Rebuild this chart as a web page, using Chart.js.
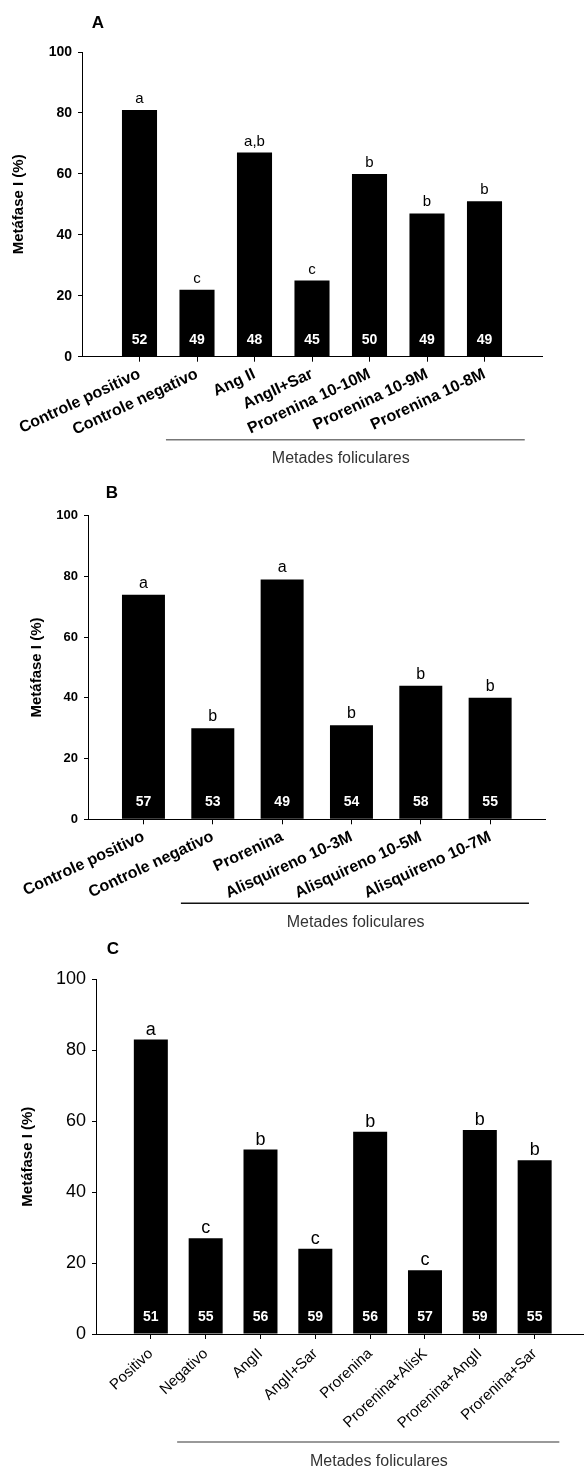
<!DOCTYPE html>
<html>
<head>
<meta charset="utf-8">
<script src="https://cdn.jsdelivr.net/npm/chart.js@4/dist/chart.umd.min.js"></script>
<style>
body { margin: 0; background: #fff; }
canvas { position: absolute; left: 0; }
</style>
</head>
<body>
<canvas id="chartA" width="584" height="470" style="top:0px"></canvas>
<canvas id="chartB" width="584" height="465" style="top:470px"></canvas>
<canvas id="chartC" width="584" height="538" style="top:935px"></canvas>
<script>
// panel A
const catsA = ["Controle positivo", "Controle negativo", "Ang II", "AngII+Sar", "Prorenina 10-10M", "Prorenina 10-9M", "Prorenina 10-8M"];
const valuesA = [81, 22, 67, 25, 60, 47, 51];
const lettersA = ["a", "c", "a,b", "c", "b", "b", "b"];
const nA = [52, 49, 48, 45, 50, 49, 49];

// panel B
const catsB = ["Controle positivo", "Controle negativo", "Prorenina", "Alisquireno 10-3M", "Alisquireno 10-5M", "Alisquireno 10-7M"];
const valuesB = [74, 30, 79, 31, 44, 40];
const lettersB = ["a", "b", "a", "b", "b", "b"];
const nB = [57, 53, 49, 54, 58, 55];

// panel C
const catsC = ["Positivo", "Negativo", "AngII", "AngII+Sar", "Prorenina", "Prorenina+AlisK", "Prorenina+AngII", "Prorenina+Sar"];
const valuesC = [83, 27, 52, 24, 57, 18, 57.5, 49];
const lettersC = ["a", "c", "b", "c", "b", "c", "b", "b"];
const nC = [51, 55, 56, 59, 56, 57, 59, 55];

const yTicks = [0, 20, 40, 60, 80, 100];
const FAM = '"Liberation Sans", Arial, sans-serif';

// letters above bars, n inside bars, panel letter and the "Metades foliculares" bracket
const annot = {
  id: "annot",
  afterDatasetsDraw(chart, args, o) {
    const ctx = chart.ctx;
    const x = chart.scales.x, y = chart.scales.y;
    const y0 = y.getPixelForValue(0);
    ctx.save();
    ctx.textAlign = "center";
    ctx.textBaseline = "alphabetic";
    ctx.fillStyle = "#fff";
    ctx.font = "bold 14px " + FAM;
    o.n.forEach((n, i) => ctx.fillText(n, x.getPixelForValue(i + 1), y0 - 13));
    ctx.fillStyle = "#000";
    ctx.font = o.letterFont;
    o.letters.forEach((l, i) => ctx.fillText(l, x.getPixelForValue(i + 1), y.getPixelForValue(o.values[i]) - o.letterGap));
    ctx.font = "bold 17px " + FAM;
    ctx.textBaseline = "middle";
    ctx.fillText(o.panel, o.panelX, o.panelY);
    ctx.strokeStyle = o.lineColor;
    ctx.lineWidth = 1.5;
    ctx.beginPath();
    ctx.moveTo(x.getPixelForValue(o.groupFrom), y0 + o.lineDy);
    ctx.lineTo(x.getPixelForValue(o.groupTo), y0 + o.lineDy);
    ctx.stroke();
    ctx.fillStyle = "#333";
    ctx.font = "16px " + FAM;
    ctx.fillText("Metades foliculares", x.getPixelForValue(o.labelAt), y0 + o.textDy);
    ctx.restore();
  }
};

function makePanel(id, cats, values, letters, n, c) {
  return new Chart(document.getElementById(id), {
    type: "bar",
    data: {
      datasets: [{
        data: values.map((v, i) => ({ x: i + 1, y: v })),
        backgroundColor: "#000",
        categoryPercentage: 1,
        barPercentage: c.barPct
      }]
    },
    options: {
      responsive: false,
      animation: false,
      layout: { padding: { top: c.top, right: c.right, left: 0, bottom: 0 } },
      plugins: {
        legend: { display: false },
        tooltip: { enabled: false },
        annot: Object.assign({ letters: letters, n: n, values: values }, c.annot)
      },
      scales: {
        x: {
          type: "linear",
          min: c.xmin,
          max: c.xmax,
          offset: false,
          afterBuildTicks: (a) => { a.ticks = cats.map((s, i) => ({ value: i + 1 })); },
          afterFit: (s) => { s.height = c.xh; },
          grid: { offset: false, drawOnChartArea: false, tickLength: 5, color: "#000" },
          border: { color: "#000", width: 1 },
          ticks: {
            autoSkip: false,
            minRotation: c.rot,
            maxRotation: c.rot,
            padding: c.xpad,
            color: "#000",
            font: c.xfont,
            callback: (v) => cats[v - 1]
          }
        },
        y: {
          min: 0,
          max: 100,
          afterBuildTicks: (a) => { a.ticks = yTicks.map((v) => ({ value: v })); },
          afterFit: (s) => { s.width = c.yw; },
          grid: { drawOnChartArea: false, tickLength: 4, color: "#000" },
          border: { color: "#000", width: 1 },
          ticks: { padding: 6, color: "#000", font: c.yfont },
          title: {
            display: true,
            text: "Metáfase I (%)",
            color: "#000",
            font: { family: FAM, size: 15, weight: "bold" },
            padding: { top: c.titlePad, bottom: 0 }
          }
        }
      }
    },
    plugins: [annot]
  });
}

makePanel("chartA", catsA, valuesA, lettersA, nA, {
  barPct: 0.61, top: 52, right: 42, xh: 113.3, yw: 82, xmin: 0, xmax: 8, rot: 25, xpad: 3,
  xfont: { family: FAM, size: 16, weight: "bold" },
  yfont: { family: FAM, size: 14, weight: "bold" },
  titlePad: 10,
  annot: { letterFont: "15px " + FAM, letterGap: 7, panel: "A", panelX: 98, panelY: 23,
    lineColor: "#777", groupFrom: 1.46, groupTo: 7.7, lineDy: 83, labelAt: 4.5, textDy: 102 }
});

makePanel("chartB", catsB, valuesB, lettersB, nB, {
  barPct: 0.62, top: 45.7, right: 38.4, xh: 115.7, yw: 88, xmin: 0.2, xmax: 6.8, rot: 25, xpad: 3,
  xfont: { family: FAM, size: 16, weight: "bold" },
  yfont: { family: FAM, size: 13, weight: "bold" },
  titlePad: 28,
  annot: { letterFont: "16px " + FAM, letterGap: 7, panel: "B", panelX: 112, panelY: 23,
    lineColor: "#111", groupFrom: 1.54, groupTo: 6.56, lineDy: 84, labelAt: 4.06, textDy: 103 }
});

makePanel("chartC", catsC, valuesC, lettersC, nC, {
  barPct: 0.62, top: 44.3, right: 0, xh: 139, yw: 96, xmin: 0, xmax: 8.9, rot: 43, xpad: 6,
  xfont: { family: FAM, size: 15 },
  yfont: { family: FAM, size: 18 },
  titlePad: 19,
  annot: { letterFont: "18px " + FAM, letterGap: 5, panel: "C", panelX: 113, panelY: 14,
    lineColor: "#777", groupFrom: 1.48, groupTo: 8.45, lineDy: 108, labelAt: 5.16, textDy: 128 }
});
</script>
</body>
</html>
